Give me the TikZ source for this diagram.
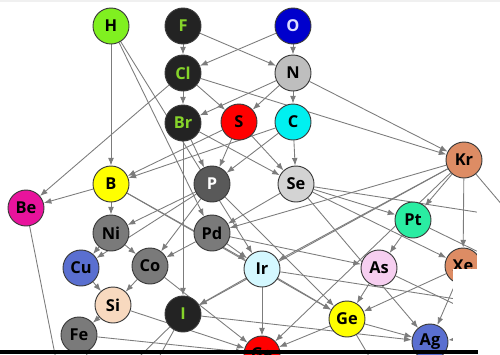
\documentclass[tikz,border=0pt]{standalone}
\usepackage{fontspec}
\setsansfont{Open Sans}
\usetikzlibrary{arrows.meta,backgrounds}
% colours of the elements
\definecolor{bord}{HTML}{3A3A3A}
\definecolor{edgec}{HTML}{7C7C7C}
\definecolor{hgreen}{HTML}{80F020}
\definecolor{halo}{HTML}{232323}
\definecolor{halotxt}{HTML}{86D42A}
\definecolor{oblue}{HTML}{0000CC}
\definecolor{otxt}{HTML}{DCDCFF}
\definecolor{ngray}{HTML}{BEBEBE}
\definecolor{sred}{HTML}{FF0000}
\definecolor{ccyan}{HTML}{00F0F0}
\definecolor{krsal}{HTML}{DD8C64}
\definecolor{byel}{HTML}{FFFF00}
\definecolor{pgray}{HTML}{595959}
\definecolor{segray}{HTML}{D3D3D3}
\definecolor{bemag}{HTML}{E8139C}
\definecolor{mgray}{HTML}{7A7A7A}
\definecolor{ptgrn}{HTML}{2AEDA2}
\definecolor{cublue}{HTML}{5A6FD0}
\definecolor{irblue}{HTML}{D4F8FF}
\definecolor{aspink}{HTML}{F6CFF0}
\definecolor{sipeach}{HTML}{F8D9BF}
\tikzset{
  el/.style={circle, draw=bord, line width=0.8pt, fill=#1, minimum size=1.08cm, inner sep=0pt, font=\sffamily\bfseries\fontsize{14}{14}\selectfont},
  dk/.style={el=halo, text=halotxt},
  ed/.style={->, draw=edgec, line width=0.75pt}
}
\begin{document}
\begin{tikzpicture}[x=0.03cm, y=-0.03cm, line join=round, line cap=round, >={Latex[length=6.5pt,width=5pt]}]
\useasboundingbox (0,0) rectangle (500,354);
\fill[gray!12] (0,0) rectangle (500,2);
% top rows
\node[el=hgreen] (H) at (111,26) {H};
\node[dk] (F) at (183,26) {F};
\node[el=oblue, text=otxt] (O) at (293,26) {O};
\node[dk] (Cl) at (183,73) {Cl};
\node[el=ngray] (N) at (293,73) {N};
\node[dk] (Br) at (183,123) {Br};
\node[el=sred] (S) at (239,122) {S};
\node[el=ccyan] (C) at (293,122) {C};
\node[el=krsal] (Kr) at (464,160) {Kr};
% middle rows
\node[el=byel] (B) at (111,184) {B};
\node[el=pgray, text=white] (P) at (212,184) {P};
\node[el=segray] (Se) at (296,184) {Se};
\node[el=bemag] (Be) at (26,208) {Be};
\node[el=ptgrn] (Pt) at (413,220) {Pt};
\node[el=mgray] (Ni) at (111,233) {Ni};
\node[el=mgray] (Pd) at (212,233) {Pd};
\node[el=cublue] (Cu) at (81,268) {Cu};
\node[el=mgray] (Co) at (150,266) {Co};
\node[el=irblue] (Ir) at (262,269) {Ir};
\node[el=aspink] (As) at (379,268) {As};
\node[el=krsal] (Xe) at (463,266) {Xe};
% bottom rows
\node[el=sipeach] (Si) at (113,305) {Si};
\node[dk] (I) at (183,314) {I};
\node[el=byel] (Ge) at (347,319) {Ge};
\node[el=mgray] (Fe) at (79,335) {Fe};
\node[el=cublue] (Ag) at (430,342) {Ag};
\node[el=sred] (Ga) at (262,354) {Ga};
% ends of the edges that leave the frame
\coordinate (oBe) at (68,420);
\coordinate (oFe) at (105,400);
\coordinate (oIa) at (95,400);
\coordinate (oIb) at (135,400);
\coordinate (oGe) at (395,400);
\coordinate (oKr) at (520,226);
\coordinate (oSe) at (560,225);
\coordinate (oPt) at (540,282);
\coordinate (oAs) at (540,345);
\coordinate (oIr) at (540,312);
\coordinate (oAg) at (540,330);
\begin{scope}[on background layer]
% edges of the top rows
\draw[ed] (F) -- (Cl);
\draw[ed] (F) -- (N);
\draw[ed] (O) -- (Cl);
\draw[ed] (O) -- (N);
\draw[ed] (Cl) -- (Br);
\draw[ed] (Cl) -- (S);
\draw[ed] (Cl) -- (Kr);
\draw[ed] (Cl) -- (Be);
\draw[ed] (N) -- (C);
\draw[ed] (N) -- (S);
\draw[ed] (N) -- (Br);
\draw[ed] (N) -- (Kr);
\draw[ed] (H) -- (B);
\draw[ed] (H) -- (Pd);
\draw[ed] (H) -- (Ir);
% edges of the middle rows
\draw[ed] (Br) -- (P);
\draw[ed] (Br) -- (Se);
\draw[ed] (Br) -- (I);
\draw[ed] (S) -- (P);
\draw[ed] (S) -- (Se);
\draw[ed] (S) -- (B);
\draw[ed] (C) -- (Se);
\draw[ed] (C) -- (P);
\draw[ed] (C) -- (B);
\draw[ed] (B) -- (Be);
\draw[ed] (B) -- (Ni);
\draw[ed] (B) -- (Ir);
\draw[ed] (B) -- (Ge);
\draw[ed] (P) -- (Ni);
\draw[ed] (P) -- (Cu);
\draw[ed] (P) -- (Co);
\draw[ed] (P) -- (Ge);
\draw[ed] (Se) -- (Pd);
\draw[ed] (Se) -- (Pt);
\draw[ed] (Se) -- (Xe);
\draw[ed] (Se) -- (Ag);
\draw[ed] (Se) -- (oSe);
\draw[ed] (Kr) -- (Pt);
\draw[ed] (Kr) -- (Xe);
\draw[ed] (Kr) -- (oKr);
\draw[ed] (Kr) -- (Pd);
\draw[ed] (Kr) -- (Ir);
\draw[ed] (Kr) -- (I);
\draw[ed] (Kr) -- (Ga);
% edges of the bottom rows
\draw[ed] (Ni) -- (Cu);
\draw[ed] (Ni) -- (Co);
\draw[ed] (Cu) -- (Si);
\draw[ed] (Co) -- (Si);
\draw[ed] (Co) -- (Ga);
\draw[ed] (Si) -- (Fe);
\draw[ed] (Si) -- (Ga);
\draw[ed] (Fe) -- (Ga);
\draw[ed] (Fe) -- (oFe);
\draw[ed] (Be) -- (oBe);
\draw[ed] (Pd) -- (Ir);
\draw[ed] (Pd) -- (As);
\draw[ed] (Pd) -- (Co);
\draw[ed] (Ir) -- (I);
\draw[ed] (Ir) -- (Ga);
\draw[ed] (Ir) -- (Ge);
\draw[ed] (Ir) -- (oIr);
\draw[ed] (I) -- (Ag);
\draw[ed] (I) -- (oIa);
\draw[ed] (I) -- (oIb);
\draw[ed] (Pt) -- (As);
\draw[ed] (Pt) -- (oPt);
\draw[ed] (As) -- (Ge);
\draw[ed] (As) -- (oAs);
\draw[ed] (Xe) -- (Ge);
\draw[ed] (Xe) -- (Ag);
\draw[ed] (Ge) -- (Ag);
\draw[ed] (Ge) -- (Ga);
\draw[ed] (Ge) -- (oGe);
\draw[ed] (oAg) -- (Ag);
\end{scope}
% parts of the frame that hide the picture
\fill[white] (453,269) rectangle (500,350);
\fill[white] (477,208) rectangle (500,354);
\fill[black] (0,350) rectangle (477.5,354);
\end{tikzpicture}
\end{document}
